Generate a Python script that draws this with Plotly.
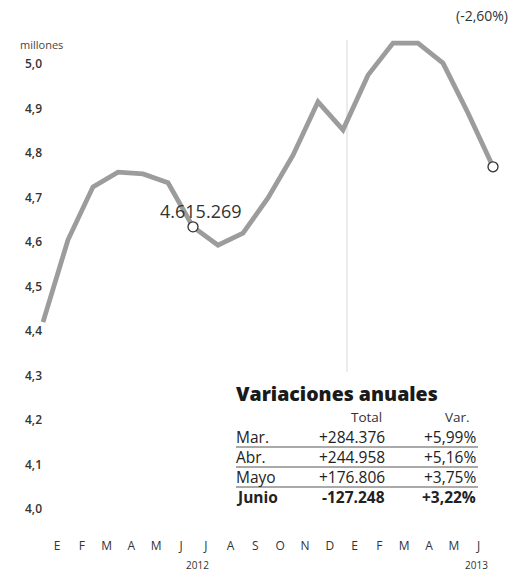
import numpy as np
import plotly.graph_objects as go

# ---------------- data ----------------
# Monthly series, Dec 2011 .. Jun 2013 (millions)
periods = ["D11", "E12", "F12", "M12", "A12", "M12b", "J12", "J12b", "A12b", "S12", "O12", "N12", "D12",
           "E13", "F13", "M13", "A13", "M13b", "J13"]
values = [4.42, 4.605, 4.724, 4.757, 4.753, 4.733, 4.634, 4.593, 4.620, 4.699, 4.795,
          4.915, 4.852, 4.975, 5.047, 5.047, 5.002, 4.89, 4.769]
highlight_idx = [6, 18]
highlight_label = "4.615.269"

month_labels = ["E", "F", "M", "A", "M", "J", "J", "A", "S", "O", "N", "D", "E", "F", "M", "A", "M", "J"]
year_labels = ["2012", "2013"]
y_ticks = [4.0, 4.1, 4.2, 4.3, 4.4, 4.5, 4.6, 4.7, 4.8, 4.9, 5.0]

table_title = "Variaciones anuales"
table_header = ["Total", "Var."]
table_rows = ["Mar.", "Abr.", "Mayo", "Junio"]
table_total = ["+284.376", "+244.958", "+176.806", "-127.248"]
table_var = ["+5,99%", "+5,16%", "+3,75%", "+3,22%"]
corner_note = "(-2,60%)"
unit_label = "millones"

# ---------------- layout helpers ----------------
W, H = 520, 573
B = 40
PH = H - B  # plot area height in px


def px(x):
    return x / W


def py(y):
    return 1 - y / PH


FONT = "Open Sans"
x_idx = list(range(len(values)))

fig = go.Figure()
fig.add_trace(go.Scatter(
    x=x_idx, y=values, mode="lines",
    line=dict(color="#9c9c9c", width=4.8),
    hoverinfo="skip", showlegend=False,
))
fig.add_trace(go.Scatter(
    x=[x_idx[i] for i in highlight_idx], y=[values[i] for i in highlight_idx],
    mode="markers",
    marker=dict(size=10, color="white", line=dict(color="#333333", width=1.3)),
    cliponaxis=False, hoverinfo="skip", showlegend=False,
))

tick_pos = list(0.56 + 0.992 * np.arange(len(month_labels)))

fig.update_layout(
    width=W, height=H, autosize=False,
    margin=dict(l=0, r=0, t=0, b=B),
    paper_bgcolor="white", plot_bgcolor="white",
    font=dict(family=FONT, color="#333333"),
    xaxis=dict(
        domain=[0.05, 1], range=[-0.68, 19.08],
        showgrid=False, zeroline=False, showline=False,
        tickvals=tick_pos, ticktext=month_labels, ticks="", ticklen=0,
        ticklabelstandoff=4,
        tickfont=dict(family=FONT, size=12, color="#333333", weight=500),
    ),
    yaxis=dict(
        range=[4 - 24 / 445, 4 + 509 / 445],
        anchor="free", position=42 / W,
        showgrid=False, zeroline=False, showline=False,
        tickvals=y_ticks, ticktext=[f"{v:.1f}".replace(".", ",") for v in y_ticks],
        ticks="", ticklen=0,
        tickfont=dict(family=FONT, size=12, color="#333333", weight=600),
    ),
)

ann = []
# highlight label
ann.append(dict(x=x_idx[highlight_idx[0]], y=values[highlight_idx[0]], xref="x", yref="y",
                text=highlight_label, showarrow=False, xshift=8, yshift=16,
                font=dict(family=FONT, size=18, color="#333333")))
# corner note and unit
ann.append(dict(x=px(510), y=py(16), xref="paper", yref="paper", text=corner_note,
                showarrow=False, xanchor="right", yanchor="middle",
                font=dict(family=FONT, size=14, color="#333333")))
ann.append(dict(x=px(18), y=py(45), xref="paper", yref="paper", text=unit_label,
                showarrow=False, xanchor="left", yanchor="middle",
                font=dict(family=FONT, size=11, color="#444444")))
# years
for txt, xp in zip(year_labels, [197, 476]):
    ann.append(dict(x=px(xp), y=py(565), xref="paper", yref="paper", text=txt,
                    showarrow=False, xanchor="center", yanchor="middle",
                    font=dict(family=FONT, size=10, color="#333333")))
# table
ann.append(dict(x=px(235), y=py(393), xref="paper", yref="paper", text=table_title,
                showarrow=False, xanchor="left", yanchor="middle", borderpad=0,
                font=dict(family=FONT, size=19.5, color="#1a1a1a", weight=800)))
for txt, xr in zip(table_header, [383, 471]):
    ann.append(dict(x=px(xr), y=py(417), xref="paper", yref="paper", text=txt,
                    showarrow=False, xanchor="right", yanchor="middle", borderpad=0,
                    font=dict(family=FONT, size=13.5, color="#333333")))
row_y = [437, 457, 477, 497]
for i, (lab, tot, var) in enumerate(zip(table_rows, table_total, table_var)):
    w = 700 if i == len(table_rows) - 1 else 400
    f = dict(family=FONT, size=15.5, color="#222222", weight=w)
    ann.append(dict(x=px(235), y=py(row_y[i]), xref="paper", yref="paper", text=lab,
                    showarrow=False, xanchor="left", yanchor="middle", borderpad=0, font=f))
    ann.append(dict(x=px(386), y=py(row_y[i]), xref="paper", yref="paper", text=tot,
                    showarrow=False, xanchor="right", yanchor="middle", borderpad=0, font=f))
    ann.append(dict(x=px(477), y=py(row_y[i]), xref="paper", yref="paper", text=var,
                    showarrow=False, xanchor="right", yanchor="middle", borderpad=0, font=f))

shapes = []
for yl in [447, 467, 487]:
    shapes.append(dict(type="line", xref="paper", yref="paper", x0=px(236), x1=px(478),
                       y0=py(yl), y1=py(yl), line=dict(color="#555555", width=1)))
# faint vertical fold line in the print
shapes.append(dict(type="line", xref="paper", yref="paper", x0=px(347), x1=px(347),
                   y0=py(40), y1=py(372), line=dict(color="#ececec", width=2), layer="below"))

fig.update_layout(annotations=ann, shapes=shapes)
fig.write_html("out.html", config={"displayModeBar": False},
               post_script="document.body.style.margin='0px';")
